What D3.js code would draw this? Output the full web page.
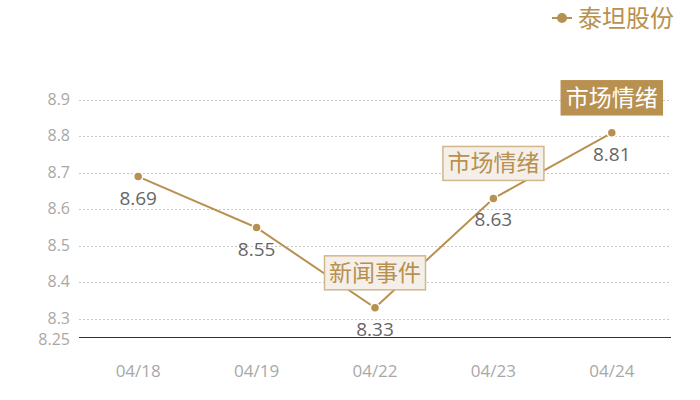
<!DOCTYPE html>
<html>
<head>
<meta charset="utf-8">
<title>泰坦股份</title>
<script src="https://d3js.org/d3.v7.min.js"></script>
<style>
  body { margin: 0; background: #fff; }
  text { font-family: "Open Sans", "Noto Sans CJK SC", sans-serif; }
  .grid line { stroke: #c8c8c8; stroke-dasharray: 2,2; }
</style>
</head>
<body>
<script>
// data
const dates = ["04/18", "04/19", "04/22", "04/23", "04/24"];
const prices = [8.69, 8.55, 8.33, 8.63, 8.81];
const yTicks = [8.25, 8.3, 8.4, 8.5, 8.6, 8.7, 8.8, 8.9];
const seriesName = "泰坦股份";
const notes = [
  { date: "04/22", text: "新闻事件", filled: false },
  { date: "04/23", text: "市场情绪", filled: false },
  { date: "04/24", text: "市场情绪", filled: true }
];

const gold = "#b8904f";
const width = 700, height = 400;
const margin = { left: 79, right: 29, top: 100, bottom: 63 };

const svg = d3.select("body").append("svg")
    .attr("width", width)
    .attr("height", height);

const x = d3.scaleBand()
    .domain(dates)
    .range([margin.left, width - margin.right]);

const y = d3.scaleLinear()
    .domain([8.25, 8.9])
    .range([height - margin.bottom, margin.top]);

// grid
svg.append("g").attr("class", "grid")
    .selectAll("line")
    .data(yTicks.filter(d => d > 8.25))
    .join("line")
    .attr("x1", margin.left).attr("x2", width - margin.right)
    .attr("y1", d => Math.round(y(d)) + 0.5).attr("y2", d => Math.round(y(d)) + 0.5);

// y labels (8.25 nudged down a little, as in the original)
svg.append("g")
    .selectAll("text")
    .data(yTicks)
    .join("text")
    .attr("x", 70)
    .attr("y", d => y(d) + (d === 8.25 ? 2 : -1))
    .attr("dy", "0.36em")
    .attr("text-anchor", "end")
    .attr("fill", "#a8a8a8")
    .attr("font-size", 16)
    .text(d => d);

// x axis
svg.append("line")
    .attr("x1", margin.left).attr("x2", width - margin.right)
    .attr("y1", y(8.25) + 0.5).attr("y2", y(8.25) + 0.5)
    .attr("stroke", "#333").attr("stroke-width", 1)
    .attr("shape-rendering", "crispEdges");

svg.append("g")
    .selectAll("text")
    .data(dates)
    .join("text")
    .attr("x", d => x(d) + x.bandwidth() / 2)
    .attr("y", 377)
    .attr("text-anchor", "middle")
    .attr("fill", "#a8a8a8")
    .attr("font-size", 17)
    .text(d => d);

const cx = (d, i) => x(dates[i]) + x.bandwidth() / 2;

// line
svg.append("path")
    .datum(prices)
    .attr("fill", "none")
    .attr("stroke", gold)
    .attr("stroke-width", 2)
    .attr("d", d3.line().x(cx).y(d => y(d)));

// notes
const ng = svg.append("g")
    .selectAll("g")
    .data(notes)
    .join("g")
    .attr("transform", d => {
        const i = dates.indexOf(d.date);
        return `translate(${x(d.date) + x.bandwidth() / 2},${y(prices[i]) - 18})`;
    });
ng.append("rect")
    .attr("x", -50.5).attr("y", -34)
    .attr("width", 101).attr("height", 34)
    .attr("fill", d => d.filled ? gold : "#f4efe8")
    .attr("stroke", d => d.filled ? gold : "#d2b68c")
    .attr("stroke-width", 1.5);
ng.append("text")
    .attr("y", -9)
    .attr("text-anchor", "middle")
    .attr("font-size", 23)
    .attr("font-family", "'Noto Sans CJK SC', sans-serif")
    .attr("fill", d => d.filled ? "#fff" : gold)
    .text(d => d.text);

// points
svg.append("g")
    .selectAll("circle")
    .data(prices)
    .join("circle")
    .attr("cx", cx)
    .attr("cy", d => y(d))
    .attr("r", 4.5)
    .attr("fill", gold)
    .attr("stroke", "#fff")
    .attr("stroke-width", 1.5);

// value labels
svg.append("g")
    .selectAll("text")
    .data(prices)
    .join("text")
    .attr("x", cx)
    .attr("y", d => y(d) + 28)
    .attr("text-anchor", "middle")
    .attr("fill", "#666")
    .attr("font-size", 19)
    .text(d => d.toFixed(2));

// legend
const lg = svg.append("g").attr("transform", "translate(562,18)");
lg.append("line").attr("x1", -10).attr("x2", 10)
    .attr("stroke", gold).attr("stroke-width", 2);
lg.append("circle").attr("r", 5).attr("fill", gold);
lg.append("text")
    .attr("x", 16).attr("dy", "0.36em")
    .attr("font-size", 24)
    .attr("font-family", "'Noto Sans CJK SC', sans-serif")
    .attr("fill", gold)
    .text(seriesName);
</script>
</body>
</html>
